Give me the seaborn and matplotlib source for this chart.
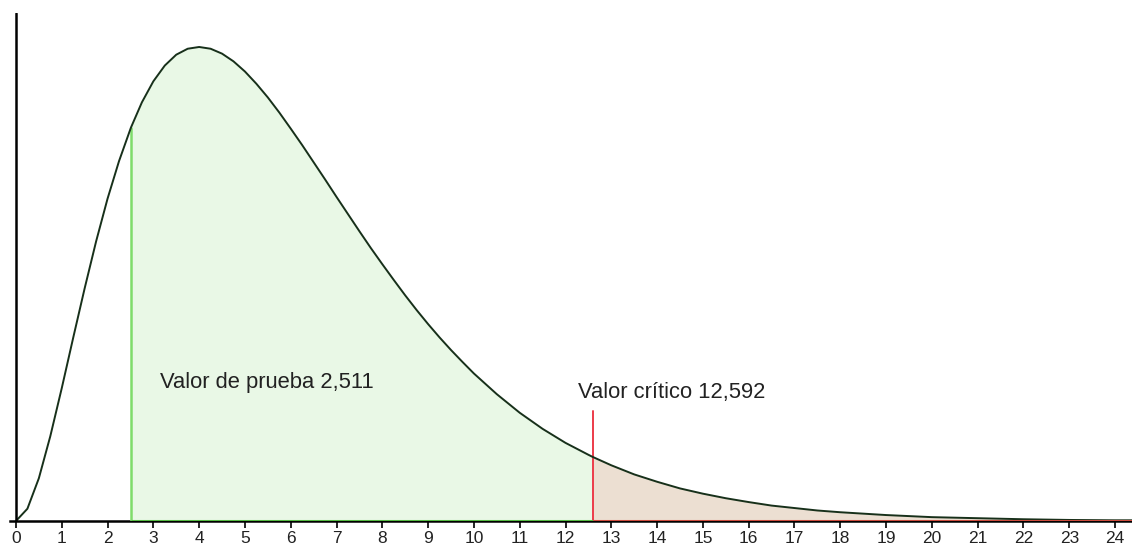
import matplotlib
matplotlib.use("Agg")
import matplotlib.pyplot as plt
import seaborn as sns
import numpy as np
import pandas as pd

# ── Data ─────────────────────────────────────────────────────────────────────
chi_x = [0, 0.25, 0.5, 0.75, 1, 1.25, 1.5, 1.75, 2, 2.25, 2.5, 2.511, 2.75,
         3, 3.25, 3.5, 3.75, 4, 4.25, 4.5, 4.75, 5, 5.25, 5.5, 5.75, 6,
         6.25, 6.5, 6.75, 7, 7.25, 7.5, 7.75, 8, 8.25, 8.5, 8.75, 9, 9.25,
         9.5, 9.75, 10, 10.5, 11, 11.5, 12, 12.5, 12.592, 13, 13.5, 14,
         14.5, 15, 15.5, 16, 16.5, 17, 17.5, 18, 18.5, 19, 19.5, 20, 21,
         22, 23, 24, 24.4]
density = [0, 0.0035, 0.0122, 0.0242, 0.0379, 0.0523, 0.0664, 0.0798,
           0.0920, 0.1027, 0.1119, 0.1123, 0.1195, 0.1255, 0.1300, 0.1331,
           0.1348, 0.1353, 0.1348, 0.1334, 0.1312, 0.1283, 0.1248, 0.1209,
           0.1166, 0.1120, 0.1073, 0.1024, 0.0975, 0.0925, 0.0876, 0.0827,
           0.0779, 0.0733, 0.0688, 0.0644, 0.0602, 0.0562, 0.0524, 0.0488,
           0.0454, 0.0421, 0.0362, 0.0309, 0.0263, 0.0223, 0.0189, 0.0183,
           0.0159, 0.0133, 0.0112, 0.0093, 0.0078, 0.0065, 0.0054, 0.0044,
           0.0037, 0.0030, 0.0025, 0.0021, 0.0017, 0.0014, 0.0011, 0.0008,
           0.0005, 0.0003, 0.0002, 0.0002]
test_value = 2.511
critical_value = 12.592
critical_line_top = 0.0315
test_label = "Valor de prueba 2,511"
critical_label = "Valor crítico 12,592"
x_ticks = list(range(0, 25))

df = pd.DataFrame({"x": chi_x, "y": density})
xs = df["x"].to_numpy()
ys = df["y"].to_numpy()

# ── Style ────────────────────────────────────────────────────────────────────
sns.set_theme(style="white")
plt.rcParams["font.family"] = ["Liberation Sans", "DejaVu Sans"]

fig = plt.figure(figsize=(11.32, 5.48), dpi=100)
ax = fig.add_axes([10 / 1132, 27 / 548, 1 - 10 / 1132, (521 - 13) / 548])

# shaded regions
acc = (xs >= test_value) & (xs <= critical_value)
rej = xs >= critical_value
ax.fill_between(xs, 0, ys, where=acc, color="#e9f8e6", linewidth=0, zorder=1)
ax.fill_between(xs, 0, ys, where=rej, color="#ecdfd2", linewidth=0, zorder=1)

# density curve
sns.lineplot(data=df, x="x", y="y", ax=ax, color="#17301a", linewidth=1.4,
             zorder=4, estimator=None, sort=False)

# vertical markers
ax.plot([test_value, test_value], [0, ys[chi_x.index(test_value)]],
        color="#7fdc6b", linewidth=1.8, zorder=3)
ax.plot([critical_value, critical_value], [0, critical_line_top],
        color="#ec3b4a", linewidth=1.4, zorder=3)

# coloured baseline segments
ax.plot([test_value, critical_value], [0, 0], color="#55b943", linewidth=2.2,
        zorder=5, solid_capstyle="butt")
ax.plot([critical_value, 24.4], [0, 0], color="#cc4a3c", linewidth=2.2,
        zorder=5, solid_capstyle="butt")

# y axis line
ax.axvline(0, color="black", linewidth=1.8, zorder=6)

ax.text(3.14, 0.0394, test_label, fontsize=15.8, va="center", ha="left",
        color="#222222")
ax.text(12.27, 0.0368, critical_label, fontsize=15.8, va="center", ha="left",
        color="#222222")

ax.set_xlim(-0.13, 24.37)
ax.set_ylim(0, 0.1450)
ax.set_xticks(x_ticks)
ax.set_xticklabels([str(t) for t in x_ticks], fontsize=12.5, color="#222222")
ax.set_yticks([])
ax.set_xlabel("")
ax.set_ylabel("")
ax.tick_params(axis="x", direction="out", length=5, width=1.2, color="black",
               pad=2, bottom=True)
for side in ["top", "right", "left"]:
    ax.spines[side].set_visible(False)
ax.spines["bottom"].set_color("black")
ax.spines["bottom"].set_linewidth(1.8)
ax.patch.set_alpha(0)

fig.savefig("out.png", dpi=100)
